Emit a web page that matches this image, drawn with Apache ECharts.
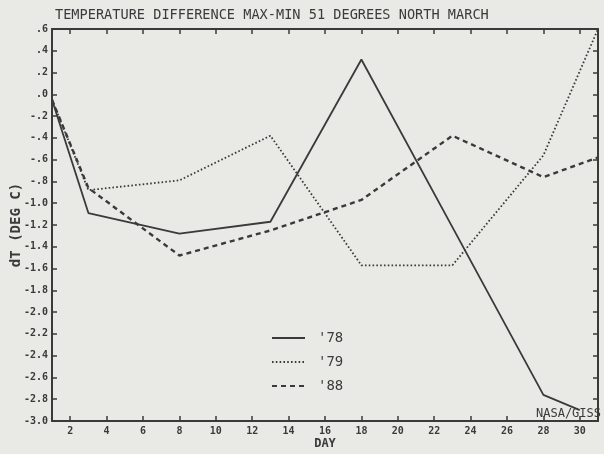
<!DOCTYPE html>
<html>
<head>
<meta charset="utf-8">
<script src="https://cdn.jsdelivr.net/npm/echarts@6/dist/echarts.min.js"></script>
<style>
html,body{margin:0;padding:0;background:#e9e9e6;}
#c{width:604px;height:454px;}
</style>
</head>
<body>
<div id="c"></div>
<script>
var seriesNames = ["'78", "'79", "'88"];
var days78 = [1, 3, 8, 13, 18, 23, 28, 30];
var vals78 = [-0.05, -1.09, -1.28, -1.17, 0.32, -1.22, -2.76, -2.90];
var days79 = [1, 3, 8, 13, 18, 23, 28, 31];
var vals79 = [-0.05, -0.88, -0.79, -0.38, -1.57, -1.57, -0.56, 0.60];
var days88 = [1, 3, 8, 13, 18, 23, 28, 31];
var vals88 = [-0.05, -0.86, -1.48, -1.25, -0.97, -0.38, -0.76, -0.58];
var xTicks = [2, 4, 6, 8, 10, 12, 14, 16, 18, 20, 22, 24, 26, 28, 30];
var yMin = -3.0, yMax = 0.6, yStep = 0.2;
var xMin = 1, xMax = 31;
var titleText = 'TEMPERATURE DIFFERENCE MAX-MIN 51 DEGREES NORTH MARCH';
var xName = 'DAY', yName = 'dT (DEG C)';
var creditText = 'NASA/GISS';

function pairs(xs, ys) { return xs.map(function (x, i) { return [x, ys[i]]; }); }
function fmtY(v) {
  var s = (Math.round(v * 10) / 10).toFixed(1);
  if (s === '-0.0') s = '0.0';
  return s.replace(/^(-?)0\./, '$1.');
}
var ink = '#3a3a3a';
var mono = 'DejaVu Sans Mono';
var chart = echarts.init(document.getElementById('c'), null, {renderer: 'canvas'});
var lineBase = {type: 'line', showSymbol: false, symbol: 'none', animation: false};
chart.setOption({
  backgroundColor: '#e9e9e6',
  animation: false,
  title: {text: titleText, left: 50, top: 3,
    textStyle: {fontFamily: mono, fontSize: 13.6, fontWeight: 'normal', color: ink}},
  legend: {orient: 'vertical', left: 271, top: 331, padding: 0, itemWidth: 33, itemHeight: 14, itemGap: 10,
    itemStyle: {opacity: 0},
    textStyle: {fontFamily: mono, fontSize: 14, color: ink, padding: [0, 0, 0, 8]},
    data: seriesNames},
  grid: {left: 52, right: 6, top: 29, bottom: 33, containLabel: false, outerBoundsMode: 'none'},
  xAxis: [{
    type: 'value', min: xMin, max: xMax, position: 'bottom',
    name: xName, nameLocation: 'middle', nameGap: 17, nameMoveOverlap: false,
    nameTextStyle: {fontFamily: mono, fontSize: 12, color: ink, fontWeight: 'bold'},
    axisLine: {show: true, onZero: false, lineStyle: {color: ink, width: 2}},
    axisTick: {show: true, inside: true, length: 5, customValues: xTicks, lineStyle: {color: ink, width: 1.5}},
    axisLabel: {show: true, customValues: xTicks, margin: 5, fontFamily: mono, fontSize: 10, fontWeight: 'bold', color: ink},
    splitLine: {show: false}
  }, {
    type: 'value', min: xMin, max: xMax, position: 'top',
    axisLine: {show: true, onZero: false, lineStyle: {color: ink, width: 2}},
    axisTick: {show: true, inside: true, length: 5, customValues: xTicks, lineStyle: {color: ink, width: 1.5}},
    axisLabel: {show: false}, splitLine: {show: false}
  }],
  yAxis: [{
    type: 'value', min: yMin, max: yMax, interval: yStep, position: 'left',
    name: yName, nameLocation: 'middle', nameGap: 29, nameRotate: 90, nameMoveOverlap: false,
    nameTextStyle: {fontFamily: mono, fontSize: 14, color: ink, fontWeight: 'bold'},
    axisLine: {show: true, onZero: false, lineStyle: {color: ink, width: 2}},
    axisTick: {show: true, inside: true, length: 5, lineStyle: {color: ink, width: 1.5}},
    axisLabel: {show: true, margin: 4, formatter: fmtY, fontFamily: mono, fontSize: 10, fontWeight: 'bold', color: ink},
    splitLine: {show: false}
  }, {
    type: 'value', min: yMin, max: yMax, interval: yStep, position: 'right',
    axisLine: {show: true, onZero: false, lineStyle: {color: ink, width: 2}},
    axisTick: {show: true, inside: true, length: 5, lineStyle: {color: ink, width: 1.5}},
    axisLabel: {show: false}, splitLine: {show: false}
  }],
  graphic: [{
    type: 'text', right: 3, top: 408, silent: true,
    style: {text: creditText, fontFamily: mono, fontSize: 12, fill: ink}
  }],
  series: [
    Object.assign({}, lineBase, {name: seriesNames[0], data: pairs(days78, vals78),
      lineStyle: {color: ink, width: 1.8, type: 'solid'}, itemStyle: {color: ink}}),
    Object.assign({}, lineBase, {name: seriesNames[1], data: pairs(days79, vals79),
      lineStyle: {color: ink, width: 1.8, type: [1.6, 2.2]}, itemStyle: {color: ink}}),
    Object.assign({}, lineBase, {name: seriesNames[2], data: pairs(days88, vals88),
      lineStyle: {color: ink, width: 2.4, type: [5, 4]}, itemStyle: {color: ink}})
  ]
});
</script>
</body>
</html>
